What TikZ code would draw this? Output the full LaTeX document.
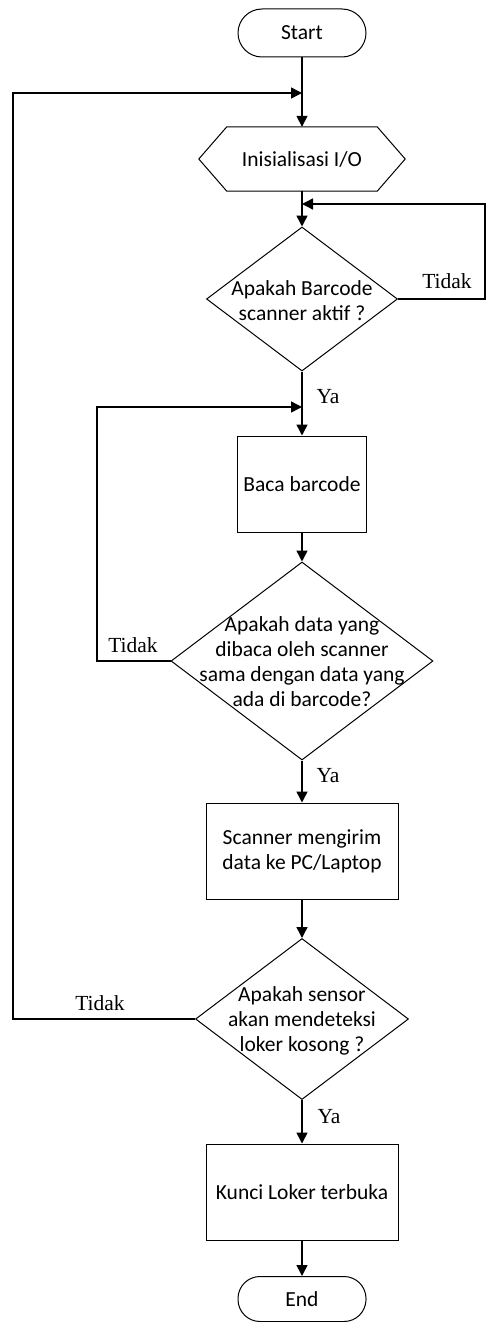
\documentclass[tikz,border=0pt]{standalone}
\usepackage{fontspec}
\setmainfont{Carlito}
\newfontfamily\labfont{Liberation Serif}
\usetikzlibrary{shapes.geometric,arrows.meta}
\begin{document}
\begin{tikzpicture}[x=1pt,y=-1pt,
  txt/.style={font=\fontsize{21.5}{25}\selectfont, align=center, inner sep=0pt},
  term/.style={draw, line width=1pt, rounded corners=24pt, minimum width=128pt, minimum height=48pt, inner sep=0pt, font=\fontsize{21.5}{25}\selectfont},
  procbox/.style={draw, line width=1pt, minimum height=96pt, inner sep=0pt, align=center, font=\fontsize{21.5}{25}\selectfont},
  dec/.style={draw, diamond, line width=1pt, inner sep=0pt},
  lab/.style={font=\labfont\fontsize{21.5}{24}\selectfont, inner sep=0pt},
  arr/.style={line width=1.5pt, -{Triangle[length=11pt,width=11pt]}},
  ln/.style={line width=1.5pt}]
\useasboundingbox (0,0) rectangle (486,1322);
% nodes
\node[term] (start) at (302,33) {Start};
\node[minimum width=206pt, minimum height=64pt, inner sep=0pt] (io) at (302,159) {};
\draw[line width=1pt] (io.west) -- ([xshift=28pt]io.north west) -- ([xshift=-28pt]io.north east) -- (io.east) -- ([xshift=-28pt]io.south east) -- ([xshift=28pt]io.south west) -- cycle;
\node[txt] (iot) at (io.center) {Inisialisasi I/O};
\node[dec, minimum width=191pt, minimum height=144pt] (d1) at (302,299) {};
\node[txt] (d1t) at (302,301) {Apakah Barcode\\scanner aktif ?};
\node[procbox, minimum width=129pt] (b1) at (302,484) {Baca barcode};
\node[dec, minimum width=262pt, minimum height=198pt] (d2) at (302,661) {};
\node[txt] (d2t) at (302,662) {Apakah data yang\\dibaca oleh scanner\\sama dengan data yang\\ada di barcode?};
\node[procbox, minimum width=192pt] (b2) at (302,851) {Scanner mengirim\\data ke PC/Laptop};
\node[dec, minimum width=213pt, minimum height=161pt] (d3) at (302,1019) {};
\node[txt] (d3t) at (302,1021) {Apakah sensor\\akan mendeteksi\\loker kosong ?};
\node[procbox, minimum width=192pt] (b3) at (302,1192) {Kunci Loker terbuka};
\node[term, minimum height=45pt, rounded corners=22pt] (end) at (302,1299) {End};
% junction coordinates
\coordinate (j1) at (302,93);
\coordinate (j2) at (302,204);
\coordinate (j3) at (302,407);
\coordinate (lft) at (13,0);
\coordinate (rgt) at (485,0);
\coordinate (mid) at (97,0);
% connectors
\draw[arr] (start) -- (io);
\draw[arr] (io) -- (d1);
\draw[arr] (d1) -- (b1);
\draw[arr] (b1) -- (d2);
\draw[arr] (d2) -- (b2);
\draw[arr] (b2) -- (d3);
\draw[arr] (d3) -- (b3);
\draw[arr] (b3) -- (end);
\draw[arr] (d1.east) -- (d1.east -| rgt) |- (j2);
\draw[arr] (d2.west) -- (d2.west -| mid) |- (j3);
\draw[arr] (d3.west) -- (d3.west -| lft) |- (j1);
% labels
\node[lab] (t1) at (447,281) {Tidak};
\node[lab] (y1) at (328,397) {Ya};
\node[lab] (t2) at (133,645) {Tidak};
\node[lab] (y2) at (328,776) {Ya};
\node[lab] (t3) at (100,1003) {Tidak};
\node[lab] (y3) at (329,1117) {Ya};
\end{tikzpicture}
\end{document}
